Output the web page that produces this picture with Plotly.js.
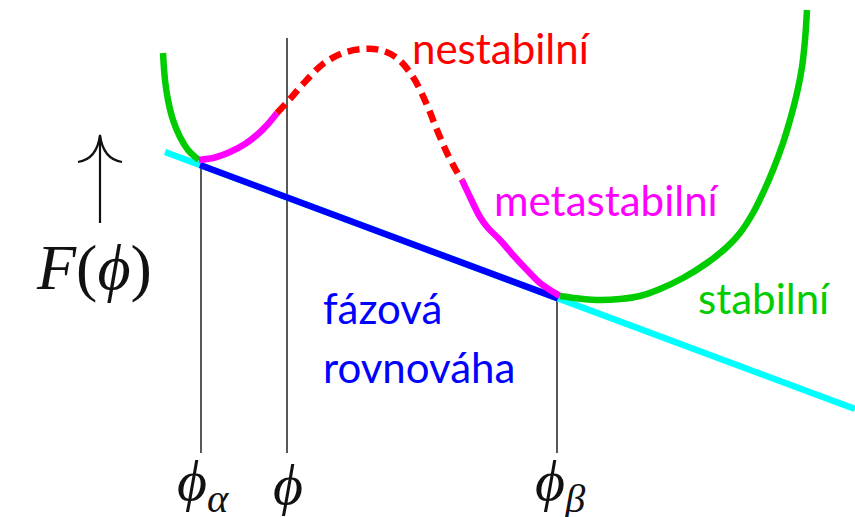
<!DOCTYPE html>
<html>
<head>
<meta charset="utf-8">
<script src="https://cdn.plot.ly/plotly-3.0.1.min.js"></script>
<style>
  html, body { margin: 0; padding: 0; background: #ffffff; }
  #chart { width: 855px; height: 517px; }
</style>
</head>
<body>
<div id="chart"></div>
<script>
// Free energy F(phi) of a two-phase mixture and its common tangent.
// phi runs left to right, F upward (arbitrary units).

// stable branch around phi_alpha
const stableLeftPhi = [163, 165, 168, 173, 180, 188, 194, 199];
const stableLeftF   = [464, 437, 417, 397, 380, 367, 361, 357];

// metastable branch right of phi_alpha
const metaLeftPhi = [199, 215, 230, 245, 258, 268, 277];
const metaLeftF   = [357, 359.5, 365, 373, 383, 393, 404];

// unstable (spinodal) hump
const unstablePhi = [277, 290, 303, 323, 343, 363, 380, 397, 413, 427, 437, 447, 457, 462];
const unstableF   = [404, 418, 433, 453, 464, 468, 467, 459, 440, 412, 387, 364, 345, 337];

// metastable branch left of phi_beta
const metaRightPhi = [462, 470, 480, 488, 500, 513, 527, 540, 550, 560];
const metaRightF   = [337, 320, 300, 289, 277, 262, 247, 234, 227, 221];

// stable branch around phi_beta
const stableRightPhi = [560, 583, 600, 620, 640, 660, 683, 707, 727, 740, 753, 763, 773, 783, 790, 797, 802, 805, 807];
const stableRightF   = [221, 218, 217, 218, 221, 228, 239, 254, 270, 284, 304, 324, 347, 374, 397, 424, 450, 477, 507];

// common tangent and the coexistence segment between the two phases
const tangentPhi = [165, 855];
const tangentF   = [365, 108];
const coexistPhi = [200, 558];
const coexistF   = [352, 218.6];

// marked compositions on the phi axis
const markPhi      = [201, 287, 557];
const markTopF     = [352, 479, 218];
const axisF        = 64;
const markLabels   = ['<i>ϕ</i><sub><i>α</i></sub>', '<i>ϕ</i>', '<i>ϕ</i><sub><i>β</i></sub>'];
const markLabelPhi = [203, 288, 560];

// region names
const regionNames = ['nestabilní', 'metastabilní', 'stabilní', 'fázová', 'rovnováha'];

const GREEN = '#00cc00', MAGENTA = '#ff00ff', RED = '#ff0000', BLUE = '#0000ff', CYAN = '#00ffff';
const INK = '#111111';
const W = 6.5;

const traces = [];
markPhi.forEach((p, i) => {
  traces.push({x: [p, p], y: [axisF, markTopF[i]], mode: 'lines',
               line: {color: INK, width: 1.4}});
});
traces.push({x: tangentPhi, y: tangentF, mode: 'lines', line: {color: CYAN, width: W}});
traces.push({x: coexistPhi, y: coexistF, mode: 'lines', line: {color: BLUE, width: W}});
traces.push({x: stableLeftPhi, y: stableLeftF, mode: 'lines', line: {color: GREEN, width: W, shape: 'spline'}});
traces.push({x: metaLeftPhi, y: metaLeftF, mode: 'lines', line: {color: MAGENTA, width: W, shape: 'spline'}});
traces.push({x: unstablePhi, y: unstableF, mode: 'lines', line: {color: RED, width: W, shape: 'spline', dash: '12px,7px'}});
traces.push({x: metaRightPhi, y: metaRightF, mode: 'lines', line: {color: MAGENTA, width: W, shape: 'spline'}});
traces.push({x: stableRightPhi, y: stableRightF, mode: 'lines', line: {color: GREEN, width: W, shape: 'spline'}});

const SANS = 'Lato, "Open Sans", sans-serif';
const SERIF = '"Liberation Serif", "DejaVu Serif", serif';

const annotations = [
  {x: 501, y: 469, text: regionNames[0], font: {family: SANS, size: 42, color: RED}},
  {x: 607, y: 317, text: regionNames[1], font: {family: SANS, size: 42, color: MAGENTA}},
  {x: 764, y: 219, text: regionNames[2], font: {family: SANS, size: 42, color: GREEN}},
  {x: 321, y: 209, text: regionNames[3], xanchor: 'left', font: {family: SANS, size: 42, color: BLUE}},
  {x: 321, y: 150, text: regionNames[4], xanchor: 'left', font: {family: SANS, size: 42, color: BLUE}},
  {x: 94, y: 250, text: '<i>F</i>(<i>ϕ</i>)', font: {family: SERIF, size: 64, color: INK}}
];
markLabels.forEach((t, i) => {
  annotations.push({x: markLabelPhi[i], y: 33, text: t, font: {family: SERIF, size: 58, color: INK}});
});
annotations.forEach(a => { a.showarrow = false; a.xref = 'x'; a.yref = 'y'; });

// upward arrow next to the F(phi) label
const shapes = [
  {type: 'line', xref: 'x', yref: 'y', x0: 100, x1: 100, y0: 294, y1: 381,
   line: {color: INK, width: 2.2}},
  {type: 'path', xref: 'x', yref: 'y',
   path: 'M 78 355 Q 97 358 100 382 Q 103 358 122 355',
   line: {color: INK, width: 2.2}}
];

const layout = {
  width: 855, height: 517,
  margin: {l: 0, r: 0, t: 0, b: 0},
  paper_bgcolor: '#ffffff', plot_bgcolor: '#ffffff',
  showlegend: false,
  xaxis: {range: [0, 855], visible: false, fixedrange: true},
  yaxis: {range: [0, 517], visible: false, fixedrange: true},
  annotations: annotations,
  shapes: shapes
};

Plotly.newPlot('chart', traces, layout, {displayModeBar: false, staticPlot: true});
</script>
</body>
</html>
